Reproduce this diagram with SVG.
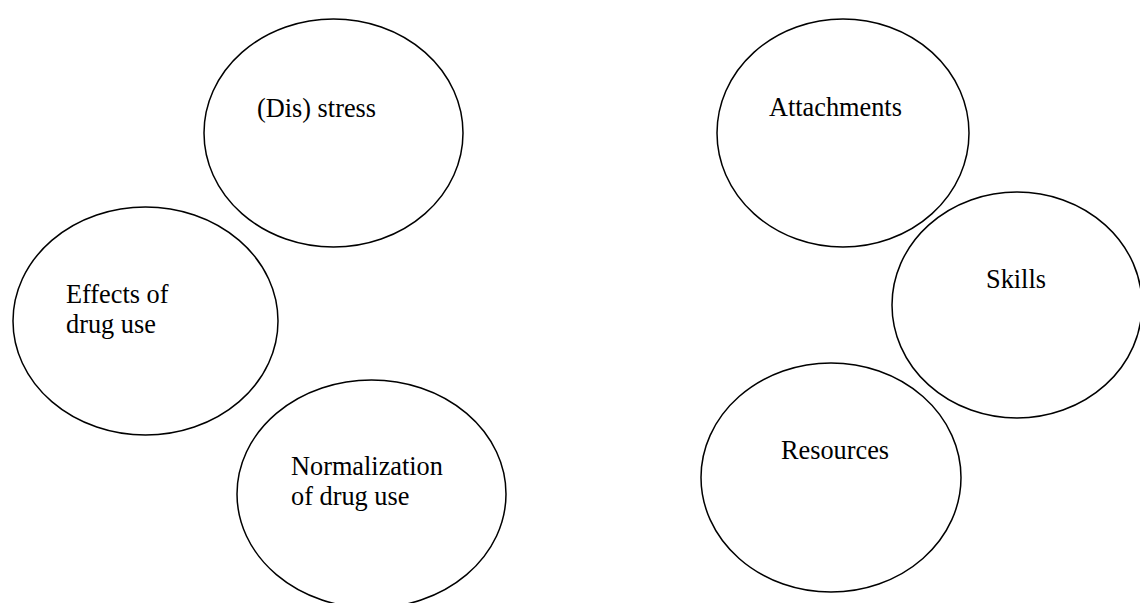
<svg xmlns="http://www.w3.org/2000/svg" width="1140" height="603" viewBox="0 0 1140 603">
<style>
.n{fill:#fff;stroke:#000;stroke-width:1.5}
.t{font-family:"Liberation Serif","Times New Roman",serif;font-size:26.3px;fill:#000}
</style>
<rect width="1140" height="603" fill="#fff"/>
<g id="connectors"></g>
<g id="distress"><ellipse class="n" cx="333.5" cy="133" rx="129.5" ry="114"/><text class="t" x="257" y="117">(Dis) stress</text></g>
<g id="effects"><ellipse class="n" cx="145.5" cy="321" rx="132.5" ry="114"/><text class="t" x="66" y="303">Effects of</text><text class="t" x="66" y="333">drug use</text></g>
<g id="normalization"><ellipse class="n" cx="371.5" cy="494" rx="134.5" ry="114"/><text class="t" x="291" y="475">Normalization</text><text class="t" x="291" y="505">of drug use</text></g>
<g id="attachments"><ellipse class="n" cx="843" cy="133" rx="126" ry="114"/><text class="t" x="769" y="116">Attachments</text></g>
<g id="skills"><ellipse class="n" cx="1017" cy="305" rx="125" ry="113"/><text class="t" x="986" y="288">Skills</text></g>
<g id="resources"><ellipse class="n" cx="831" cy="477.5" rx="130" ry="114.5"/><text class="t" x="781" y="459">Resources</text></g>
</svg>
